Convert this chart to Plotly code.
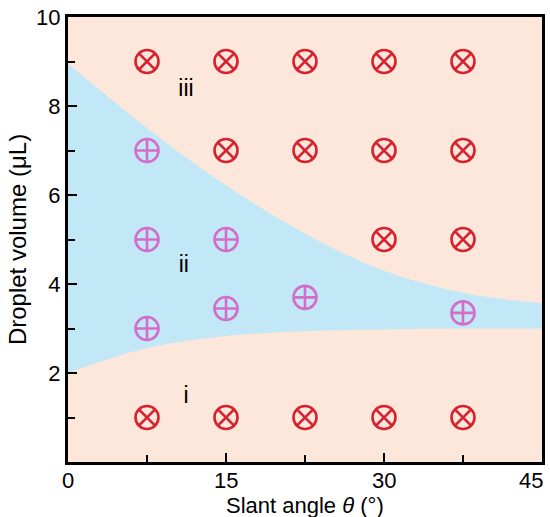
import plotly.graph_objects as go

# Phase boundaries (slant angle in degrees, droplet volume in uL)
upper_x = [0, 5, 10, 15, 20, 25, 30, 35, 40, 45]
upper_y = [8.95, 7.98, 7.05, 6.22, 5.47, 4.82, 4.30, 3.94, 3.70, 3.57]
lower_x = [0, 7.5, 15, 22.5, 30, 37.5, 45]
lower_y = [2.0, 2.56, 2.83, 2.94, 2.98, 3.0, 3.0]

# Experimental observations
slide_x = [7.5, 15, 22.5, 30, 37.5, 15, 22.5, 30, 37.5, 30, 37.5, 7.5, 15, 22.5, 30, 37.5]
slide_y = [9, 9, 9, 9, 9, 7, 7, 7, 7, 5, 5, 1, 1, 1, 1, 1]
stay_x = [7.5, 7.5, 15, 7.5, 15, 22.5, 37.5]
stay_y = [7, 5, 5, 3, 3.45, 3.7, 3.35]

region_labels = ["iii", "ii", "i"]
region_x = [11.2, 11.0, 11.2]
region_y = [8.35, 4.4, 1.45]

x_ticks = [0, 15, 30, 45]
y_ticks = [2, 4, 6, 8, 10]

PEACH = "#FCE7DA"
BLUE = "#C2E7F7"
RED = "#D8202E"
PURPLE = "#D26DC9"
FONT = "Liberation Sans, Arial, sans-serif"
TICK_SIZE = 22
TITLE_SIZE = 22

fig = go.Figure()
fig.add_trace(go.Scatter(x=lower_x, y=lower_y, mode="lines", line=dict(width=0, shape="spline", color=BLUE),
                         hoverinfo="skip", showlegend=False))
fig.add_trace(go.Scatter(x=upper_x, y=upper_y, mode="lines", line=dict(width=0, shape="spline", color=BLUE),
                         fill="tonexty", fillcolor=BLUE, hoverinfo="skip", showlegend=False))
fig.add_trace(go.Scatter(x=slide_x, y=slide_y, mode="markers",
                         marker=dict(symbol="circle-x-open", size=23, color=RED, line=dict(width=2.6, color=RED)),
                         showlegend=False))
fig.add_trace(go.Scatter(x=stay_x, y=stay_y, mode="markers",
                         marker=dict(symbol="circle-cross-open", size=23, color=PURPLE, line=dict(width=2.6, color=PURPLE)),
                         showlegend=False))
fig.add_trace(go.Scatter(x=region_x, y=region_y, mode="text", text=region_labels,
                         textfont=dict(family=FONT, size=23, color="black"), showlegend=False))

axis_common = dict(showgrid=False, zeroline=False, showline=True, linewidth=3, linecolor="black",
                   mirror=True, ticks="inside", ticklen=9, tickwidth=2.2, tickcolor="black",
                   tickfont=dict(family=FONT, size=TICK_SIZE, color="black"))
# x tick labels drawn as annotations anchored to their ticks (keeps them tight to the axis
# and lets the last one stay inside the page)
fig.update_xaxes(range=[0, 45], tickvals=x_ticks, showticklabels=False,
                 minor=dict(tickvals=[7.5, 22.5, 37.5], ticks="inside", ticklen=7, tickwidth=2.2, tickcolor="black"),
                 **axis_common)
for i, v in enumerate(x_ticks):
    last = i == len(x_ticks) - 1
    fig.add_annotation(x=v, y=0, xref="x", yref="y", text=str(v), showarrow=False,
                       xanchor="right" if last else "center", yanchor="top",
                       xshift=3 if last else 0, yshift=-4,
                       font=dict(family=FONT, size=TICK_SIZE, color="black"))
# x-axis title, placed just above the bottom edge of the page
fig.add_annotation(x=0.5, y=-0.066, xref="paper", yref="paper", text="Slant angle <i>θ</i> (°)",
                   showarrow=False, xanchor="center", yanchor="top",
                   font=dict(family=FONT, size=TITLE_SIZE, color="black"))
fig.update_yaxes(range=[0, 10], tickvals=y_ticks, ticktext=[str(v) for v in y_ticks],
                 minor=dict(tickvals=[1, 3, 5, 7, 9], ticks="inside", ticklen=7, tickwidth=2.2, tickcolor="black"),
                 title=dict(text="Droplet volume (μL)", font=dict(family=FONT, size=24, color="black"), standoff=3),
                 **axis_common)
fig.update_layout(width=550, height=517, margin=dict(l=68, r=5, t=17, b=55),
                  plot_bgcolor=PEACH, paper_bgcolor="white")
fig.write_html("out.html")
